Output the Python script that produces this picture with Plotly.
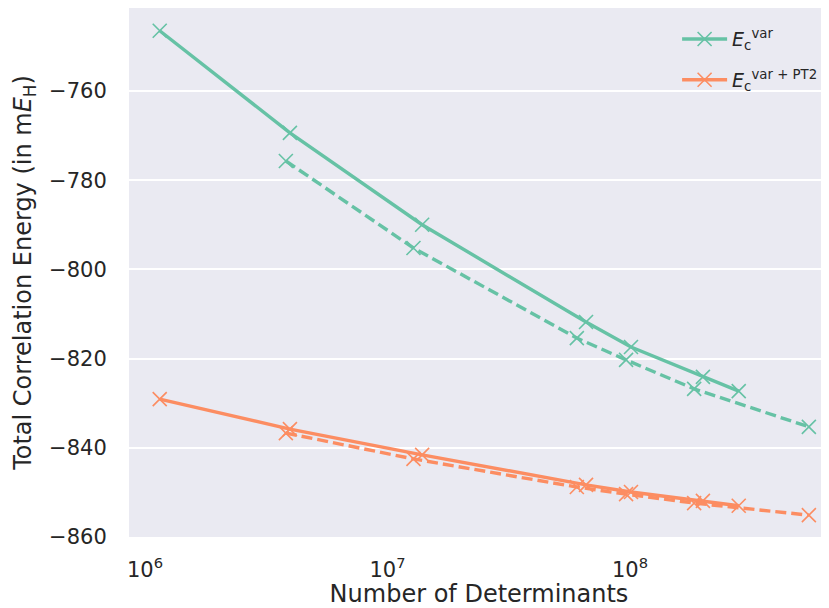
import plotly.graph_objects as go

# Number of determinants
det_solid = [1.15e6, 3.96e6, 1.39e7, 6.59e7, 1.01e8, 2.00e8, 2.81e8]
det_dashed = [3.81e6, 1.28e7, 6.04e7, 9.64e7, 1.84e8, 5.47e8]

# Correlation energies (mE_H)
evar_solid = [-746.5, -769.4, -790.0, -811.8, -817.4, -824.1, -827.3]
evar_dashed = [-775.7, -795.2, -815.4, -820.3, -826.8, -835.3]
ept2_solid = [-829.1, -835.8, -841.6, -848.3, -849.9, -851.9, -853.0]
ept2_dashed = [-836.7, -842.5, -848.8, -850.4, -852.4, -855.1]

labels = ["<i>E</i><sub>c</sub><sup>var</sup>",
          "<i>E</i><sub>c</sub><sup>var + PT2</sup>"]
xticks = [1e6, 1e7, 1e8]
xticklabels = ["10<sup>6</sup>", "10<sup>7</sup>", "10<sup>8</sup>"]
yticks = [-860, -840, -820, -800, -780, -760]

GREEN = "#66c2a5"
ORANGE = "#fc8d62"
FONT = "DejaVu Sans"
TXT = "#262626"
LW = 3.4


def mk(color, size=14):
    return dict(symbol="x-thin", size=size, color=color,
                line=dict(width=1.6, color=color))


fig = go.Figure()
fig.add_trace(go.Scatter(x=det_solid, y=evar_solid, mode="lines+markers",
                         name=labels[0], legendgroup="var",
                         line=dict(color=GREEN, width=LW),
                         marker=mk(GREEN)))
fig.add_trace(go.Scatter(x=det_dashed, y=evar_dashed, mode="lines+markers",
                         showlegend=False, legendgroup="var",
                         line=dict(color=GREEN, width=LW, dash="11px,5px"),
                         marker=mk(GREEN)))
fig.add_trace(go.Scatter(x=det_solid, y=ept2_solid, mode="lines+markers",
                         name=labels[1], legendgroup="pt2",
                         line=dict(color=ORANGE, width=LW),
                         marker=mk(ORANGE)))
fig.add_trace(go.Scatter(x=det_dashed, y=ept2_dashed, mode="lines+markers",
                         showlegend=False, legendgroup="pt2",
                         line=dict(color=ORANGE, width=LW, dash="11px,5px"),
                         marker=mk(ORANGE)))

fig.update_layout(
    width=821, height=600,
    margin=dict(l=121, r=0, t=0, b=71),
    paper_bgcolor="white", plot_bgcolor="#EAEAF2",
    font=dict(family=FONT, size=22, color=TXT),
    showlegend=True,
    legend=dict(x=0.783, y=0.977, xanchor="left", yanchor="top",
                bgcolor="rgba(0,0,0,0)", borderwidth=0,
                font=dict(family=FONT, size=19, color=TXT),
                traceorder="grouped", tracegroupgap=13, itemwidth=45),
)
fig.update_xaxes(
    type="log", range=[5.934, 8.821], automargin=False,
    tickvals=xticks, ticktext=xticklabels,
    showgrid=False, zeroline=False, showline=False,
    ticks="outside", ticklen=14, tickcolor="rgba(0,0,0,0)",
    tickfont=dict(family=FONT, size=21, color=TXT),
    title=dict(text="Number of Determinants", standoff=12,
               font=dict(family=FONT, size=24, color=TXT)),
)
fig.update_yaxes(
    range=[-860, -741.4], tickvals=yticks, automargin=False,
    showgrid=True, gridcolor="white", gridwidth=1.6,
    zeroline=False, showline=False,
    ticks="outside", ticklen=17, tickcolor="rgba(0,0,0,0)",
    tickfont=dict(family=FONT, size=21, color=TXT),
    title=dict(text="Total Correlation Energy (in m<i>E</i><sub>H</sub>)",
               standoff=10, font=dict(family=FONT, size=24, color=TXT)),
)

fig.write_html("out.html")
